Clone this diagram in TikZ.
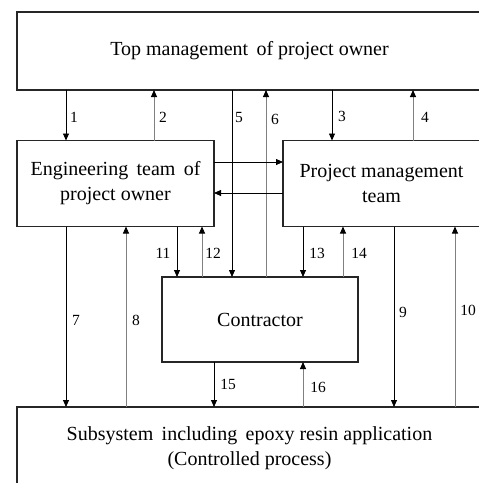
\documentclass[tikz,border=0pt]{standalone}
\usepackage{fontspec}
\setmainfont{Liberation Serif}
\usetikzlibrary{arrows.meta}
\begin{document}
\begin{tikzpicture}[x=1pt,y=-1pt,
  box/.style={draw=black!85,line width=1.1pt,inner sep=0pt,outer sep=0pt,align=center,font=\fontsize{20}{25}\selectfont},
  down/.style={draw=black,line width=0.8pt,-{Triangle[width=6pt,length=7pt]}},
  up/.style={draw=black!50,line width=0.9pt,-{Triangle[width=6pt,length=7pt,color=black]}},
  lab/.style={font=\fontsize{15.5}{18}\selectfont,inner sep=0pt}]
\useasboundingbox (0,0) rectangle (479,483);
\clip (0,0) rectangle (479,483);
\node[box,minimum width=465pt,minimum height=78pt] (top) at (249.5,51) {Top management\, of project owner};
\node[box,minimum width=197pt,minimum height=86pt] (eng) at (115.5,183.5) {Engineering\, team\, of\\project owner};
\node[box,minimum width=197pt,minimum height=86pt] (pm) at (381.5,183.5) {Project management\\team};
\node[box,minimum width=196pt,minimum height=85pt] (con) at (260,319.5) {Contractor};
\node[box,minimum width=465pt,minimum height=82pt] (bot) at (249.5,448) {Subsystem\, including\, epoxy resin application\\(Controlled process)};
% x positions
\coordinate (x1) at (66,0);
\coordinate (x2) at (154,0);
\coordinate (x5) at (232,0);
\coordinate (x6) at (266,0);
\coordinate (x3) at (332,0);
\coordinate (x4) at (413,0);
\coordinate (x11) at (177,0);
\coordinate (x12) at (202,0);
\coordinate (x13) at (303,0);
\coordinate (x14) at (343,0);
\coordinate (x8) at (126,0);
\coordinate (x9) at (394,0);
\coordinate (x10) at (455,0);
\coordinate (x15) at (214,0);
\coordinate (x16) at (303,0);
\coordinate (h1) at (0,162);
\coordinate (h2) at (0,193);
% top level
\draw[down] (top.south -| x1) -- (eng.north -| x1);
\draw[up] (eng.north -| x2) -- (top.south -| x2);
\draw[down] (top.south -| x5) -- (con.north -| x5);
\draw[up] (con.north -| x6) -- (top.south -| x6);
\draw[down] (top.south -| x3) -- (pm.north -| x3);
\draw[up] (pm.north -| x4) -- (top.south -| x4);
% horizontal
\draw[down] (eng.east |- h1) -- (pm.west |- h1);
\draw[down] (pm.west |- h2) -- (eng.east |- h2);
% to contractor
\draw[down] (eng.south -| x11) -- (con.north -| x11);
\draw[up] (con.north -| x12) -- (eng.south -| x12);
\draw[down] (pm.south -| x13) -- (con.north -| x13);
\draw[up] (con.north -| x14) -- (pm.south -| x14);
% to subsystem
\draw[down] (eng.south -| x1) -- (bot.north -| x1);
\draw[up] (bot.north -| x8) -- (eng.south -| x8);
\draw[down] (pm.south -| x9) -- (bot.north -| x9);
\draw[up] (bot.north -| x10) -- (pm.south -| x10);
\draw[down] (con.south -| x15) -- (bot.north -| x15);
\draw[up] (bot.north -| x16) -- (con.south -| x16);
% labels
\node[lab] (l1) at (74,117) {1};
\node[lab] (l2) at (163,117) {2};
\node[lab] (l5) at (239,117) {5};
\node[lab] (l6) at (275,119) {6};
\node[lab] (l3) at (342,116) {3};
\node[lab] (l4) at (425,117) {4};
\node[lab] (l11) at (163,253) {11};
\node[lab] (l12) at (213,253) {12};
\node[lab] (l13) at (317,253) {13};
\node[lab] (l14) at (359,253) {14};
\node[lab] (l7) at (76,320) {7};
\node[lab] (l8) at (136,320) {8};
\node[lab] (l9) at (403,312) {9};
\node[lab] (l10) at (468,310) {10};
\node[lab] (l15) at (228,384) {15};
\node[lab] (l16) at (318,387) {16};
\end{tikzpicture}
\end{document}
